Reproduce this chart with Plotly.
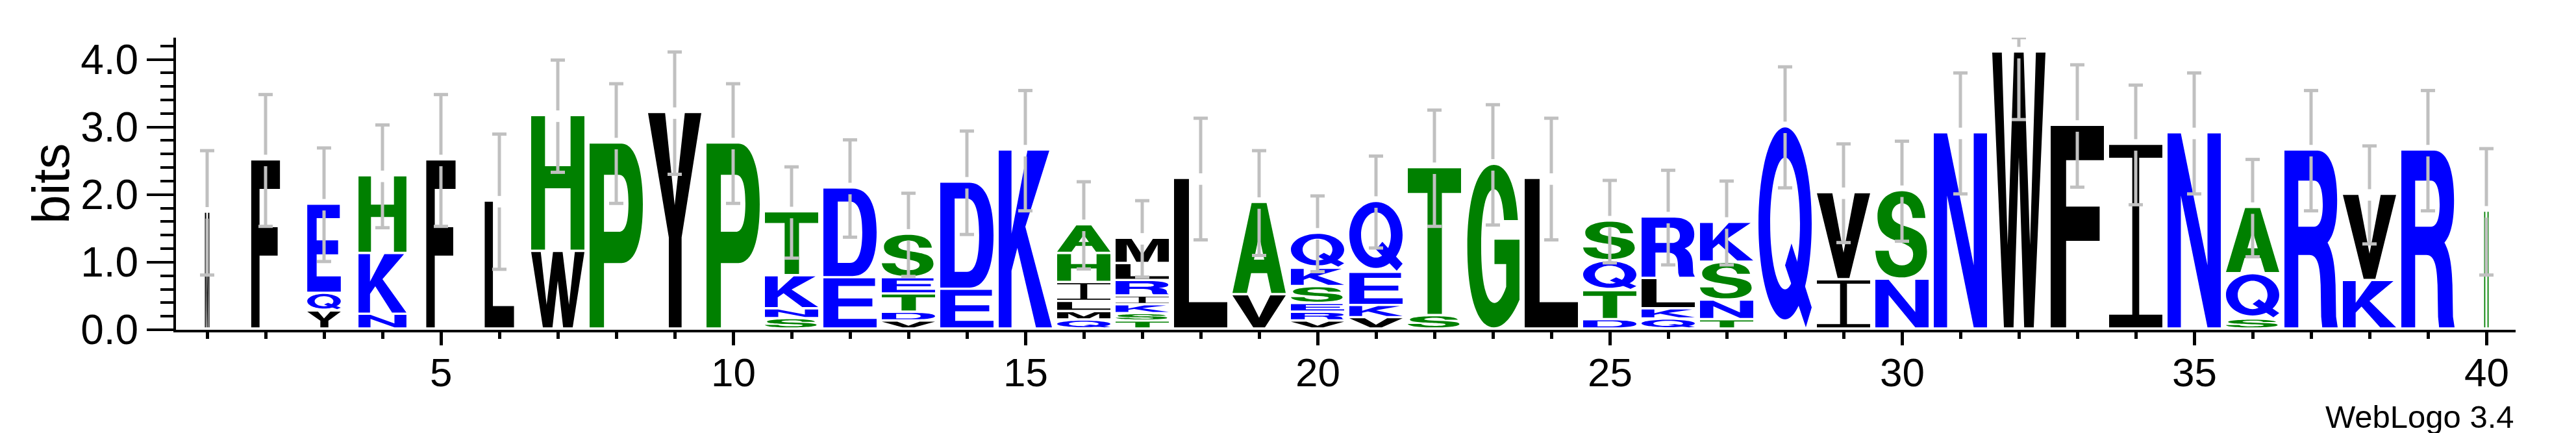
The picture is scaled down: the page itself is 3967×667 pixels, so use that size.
import re
import plotly.graph_objects as go

# ---------------- data ----------------
positions = list(range(1, 41))
stack_letters = ["M", "F", "YQE", "NKH", "F", "L", "WH", "P", "Y", "P",
                 "SNKT", "ED", "VDTES", "ED", "K", "QMLIHA", "TSKIRLM", "L", "VA", "VRESKQ",
                 "VKEQ", "ST", "G", "L", "DTQS", "QKLR", "TNSK", "Q", "IV", "NS",
                 "N", "W", "F", "I", "N", "SQA", "R", "KV", "R", "H"]
stack_heights = [
    [1.73], [2.505], [0.27, 0.26, 1.32], [0.22, 0.90, 1.15], [2.505], [1.895], [1.15, 2.01], [2.755], [3.205], [2.755],
    [0.155, 0.145, 0.49, 0.945], [0.76, 1.33], [0.12, 0.13, 0.27, 0.24, 0.645], [0.59, 1.585], [2.65],
    [0.135, 0.125, 0.15, 0.28, 0.43, 0.425], [0.12, 0.11, 0.13, 0.13, 0.23, 0.25, 0.375], [2.23], [0.51, 1.365],
    [0.12, 0.13, 0.13, 0.25, 0.27, 0.52], [0.17, 0.18, 0.49, 1.05], [0.2, 2.19], [2.44], [2.23],
    [0.14, 0.43, 0.44, 0.59], [0.15, 0.15, 0.45, 0.91], [0.14, 0.29, 0.56, 0.59], [2.995], [0.73, 1.29], [0.74, 1.31],
    [2.905], [4.10], [3.015], [2.735], [2.905], [0.15, 0.67, 0.98], [2.65], [0.72, 1.275], [2.65], [1.745]]
stack_width = [0.085, 0.54, 0.63, 0.90, 0.55, 0.55, 1, 1, 1, 1,
               1, 1, 1, 1, 1, 1, 1, 1, 1, 1,
               1, 1, 1, 1, 1, 1, 1, 1, 1, 1,
               1, 1, 1, 1, 1, 1, 1, 1, 1, 0.085]
error_half = [0.92, 0.975, 0.84, 0.76, 0.975, 1.0, 0.83, 0.885, 0.905, 0.885,
              0.675, 0.72, 0.615, 0.765, 0.89, 0.645, 0.565, 0.9, 0.775, 0.56,
              0.68, 0.86, 0.89, 0.9, 0.61, 0.70, 0.62, 0.895, 0.73, 0.74,
              0.895, 0.99, 0.905, 0.885, 0.895, 0.72, 0.89, 0.725, 0.89, 0.935]
y_max = 4.3219
x_ticks_major = [5, 10, 15, 20, 25, 30, 35, 40]
x_tick_labels = ["5", "10", "15", "20", "25", "30", "35", "40"]

# ---------------- style ----------------
FONT = "Liberation Sans, Arial, Helvetica, sans-serif"
BLUE, GREEN, BLACK = "#0000ff", "#008000", "#000000"
COLORS = {}
for ch in "KRDENQ":
    COLORS[ch] = BLUE
for ch in "AGSTPH":
    COLORS[ch] = GREEN
for ch in "FWYLIMV":
    COLORS[ch] = BLACK
FULL_W = 0.911      # glyph width of a full stack, in position units
BOTTOM_INSET = 0.035
ERR_COLOR = "#c0c0c0"
ERR_GAP = 0.085
CAP_HALF = 0.122


def ellipse(cx, cy, rx, ry):
    k = 0.5523
    return (f"M{cx+rx},{cy} C{cx+rx},{cy+k*ry} {cx+k*rx},{cy+ry} {cx},{cy+ry} "
            f"C{cx-k*rx},{cy+ry} {cx-rx},{cy+k*ry} {cx-rx},{cy} "
            f"C{cx-rx},{cy-k*ry} {cx-k*rx},{cy-ry} {cx},{cy-ry} "
            f"C{cx+k*rx},{cy-ry} {cx+rx},{cy-k*ry} {cx+rx},{cy} Z")


# glyph outlines in a unit box (u: 0..1 across, v: 0..1 up)
GLYPHS = {
    "A": ["M0,0 L0.36,1 L0.64,1 L1,0 L0.73,0 L0.65,0.22 L0.35,0.22 L0.27,0 Z "
          "M0.403,0.37 L0.597,0.37 L0.5,0.64 Z"],
    "D": ["M0,0 L0,1 L0.55,1 C0.86,1 1,0.8 1,0.5 C1,0.2 0.86,0 0.55,0 Z "
          "M0.27,0.15 L0.5,0.15 C0.66,0.15 0.73,0.28 0.73,0.5 C0.73,0.72 0.66,0.85 0.5,0.85 L0.27,0.85 Z"],
    "E": ["M0,0 L0,1 L0.97,1 L0.97,0.845 L0.28,0.845 L0.28,0.59 L0.92,0.59 L0.92,0.43 "
          "L0.28,0.43 L0.28,0.175 L1,0.175 L1,0 Z"],
    "F": ["M0,0 L0,1 L1,1 L1,0.83 L0.29,0.83 L0.29,0.6 L0.92,0.6 L0.92,0.43 L0.29,0.43 L0.29,0 Z"],
    "G": ["M0.97,0.66 C0.93,0.88 0.76,1 0.52,1 C0.21,1 0.02,0.79 0.02,0.5 C0.02,0.19 0.21,0 0.52,0 "
          "C0.71,0 0.87,0.07 1,0.17 L1,0.54 L0.53,0.54 L0.53,0.39 L0.75,0.39 L0.75,0.25 "
          "C0.69,0.19 0.61,0.15 0.53,0.15 C0.37,0.15 0.28,0.28 0.28,0.5 C0.28,0.72 0.37,0.85 0.52,0.85 "
          "C0.62,0.85 0.69,0.78 0.71,0.66 Z"],
    "H": ["M0,0 L0,1 L0.26,1 L0.26,0.625 L0.74,0.625 L0.74,1 L1,1 L1,0 L0.74,0 L0.74,0.46 L0.26,0.46 L0.26,0 Z"],
    "I": ["M0,0 L1,0 L1,0.07 L0.565,0.07 L0.565,0.93 L1,0.93 L1,1 L0,1 L0,0.93 L0.435,0.93 L0.435,0.07 L0,0.07 Z"],
    "K": ["M0,0 L0,1 L0.24,1 L0.24,0.53 L0.54,1 L0.95,1 L0.5,0.57 L1,0 L0.7,0 L0.35,0.45 L0.24,0.32 L0.24,0 Z"],
    "L": ["M0,0 L0,1 L0.28,1 L0.28,0.17 L1,0.17 L1,0 Z"],
    "M": ["M0,0 L0,1 L0.3,1 L0.5,0.3 L0.7,1 L1,1 L1,0 L0.79,0 L0.79,0.76 L0.61,0 L0.39,0 L0.21,0.76 L0.21,0 Z"],
    "N": ["M0,0 L0,1 L0.25,1 L0.75,0.32 L0.75,1 L1,1 L1,0 L0.75,0 L0.25,0.68 L0.25,0 Z"],
    "P": ["M0,0 L0,1 L0.6,1 C0.88,1 1,0.84 1,0.67 C1,0.48 0.87,0.35 0.6,0.35 L0.27,0.35 L0.27,0 Z "
          "M0.27,0.52 L0.55,0.52 C0.68,0.52 0.73,0.58 0.73,0.675 C0.73,0.77 0.68,0.83 0.55,0.83 L0.27,0.83 Z"],
    "Q": [ellipse(0.5, 0.52, 0.5, 0.48) + " " + ellipse(0.5, 0.52, 0.28, 0.33),
          "M0.5,0.31 L0.62,0.42 L1,0.1 L0.89,0 Z"],
    "R": ["M0,0 L0,1 L0.62,1 C0.87,1 0.99,0.88 0.99,0.72 C0.99,0.6 0.93,0.52 0.81,0.48 "
          "C0.9,0.43 0.95,0.36 0.96,0.24 L0.97,0.06 L1,0 L0.71,0 L0.69,0.06 L0.68,0.24 "
          "C0.67,0.35 0.62,0.41 0.47,0.41 L0.26,0.41 L0.26,0 Z "
          "M0.26,0.57 L0.56,0.57 C0.67,0.57 0.72,0.62 0.72,0.695 C0.72,0.77 0.67,0.83 0.56,0.83 L0.26,0.83 Z"],
    "S": ["M0.94,0.69 C0.92,0.9 0.76,1 0.5,1 C0.22,1 0.04,0.88 0.04,0.71 C0.04,0.54 0.16,0.47 0.42,0.42 "
          "C0.64,0.37 0.71,0.34 0.71,0.27 C0.71,0.19 0.63,0.14 0.5,0.14 C0.36,0.14 0.27,0.2 0.25,0.31 "
          "L0,0.31 C0.02,0.1 0.2,0 0.5,0 C0.8,0 0.97,0.13 0.97,0.3 C0.97,0.48 0.84,0.54 0.58,0.59 "
          "C0.38,0.63 0.31,0.66 0.31,0.73 C0.31,0.8 0.39,0.86 0.5,0.86 C0.62,0.86 0.68,0.8 0.7,0.69 Z"],
    "T": ["M0,1 L1,1 L1,0.83 L0.64,0.83 L0.64,0 L0.37,0 L0.37,0.83 L0,0.83 Z"],
    "V": ["M0,1 L0.29,1 L0.5,0.3 L0.71,1 L1,1 L0.61,0 L0.39,0 Z"],
    "W": ["M0,1 L0.18,1 L0.29,0.3 L0.41,1 L0.59,1 L0.71,0.3 L0.82,1 L1,1 L0.78,0 L0.6,0 "
          "L0.5,0.62 L0.4,0 L0.22,0 Z"],
    "Y": ["M0,1 L0.32,1 L0.5,0.57 L0.69,1 L1,1 L0.63,0.42 L0.63,0 L0.39,0 L0.39,0.42 Z"],
}

TOK = re.compile(r"[MLCZ]|-?\d*\.?\d+")


def place(path, x0, w, y0, h):
    toks = TOK.findall(path)
    out, i = [], 0
    while i < len(toks):
        t = toks[i]
        if t in ("M", "L", "C", "Z"):
            out.append(t)
            i += 1
        else:
            u, v = float(toks[i]), float(toks[i + 1])
            out.append(f"{x0 + u * w:.5f},{y0 + v * h:.5f}")
            i += 2
    return " ".join(out)


shapes = []
totals = []
for pos, letters, heights, wfrac in zip(positions, stack_letters, stack_heights, stack_width):
    w = FULL_W * wfrac
    x0 = pos - w / 2
    base = 0.0
    for ch, h in zip(letters, heights):
        inset = min(BOTTOM_INSET, 0.3 * h)
        gy0, gh = base + inset, h - inset
        for p in GLYPHS[ch]:
            shapes.append(dict(type="path", path=place(p, x0, w, gy0, gh), xref="x", yref="y",
                               fillcolor=COLORS[ch], line=dict(width=0), layer="below",
                               fillrule="evenodd"))
        base += h
    totals.append(base)

# error bars
ex, ey = [], []
for pos, c, e in zip(positions, totals, error_half):
    top = min(c + e, y_max)
    bot = c - e
    ex += [pos, pos, None, pos, pos, None,
           pos - CAP_HALF, pos + CAP_HALF, None, pos - CAP_HALF, pos + CAP_HALF, None]
    ey += [c + ERR_GAP, top, None, bot, c - ERR_GAP, None,
           top, top, None, bot, bot, None]

fig = go.Figure()
fig.add_trace(go.Scatter(x=ex, y=ey, mode="lines", line=dict(color=ERR_COLOR, width=5),
                         hoverinfo="skip", showlegend=False))

fig.update_layout(
    width=3967, height=667,
    margin=dict(l=263, r=101, t=50, b=167),
    paper_bgcolor="white", plot_bgcolor="white",
    showlegend=False, shapes=shapes,
    font=dict(family=FONT, color="black"),
)
fig.update_xaxes(
    range=[0.4667, 40.5], showline=True, linecolor="black", linewidth=4,
    ticks="outside", tickmode="array", tickvals=x_ticks_major, showticklabels=False,
    ticklen=20, tickwidth=5, tickcolor="black",
    showgrid=False, zeroline=False,
    minor=dict(dtick=1, tick0=0, ticks="outside", ticklen=10, tickwidth=5, tickcolor="black", showgrid=False),
)
fig.update_yaxes(
    range=[0, y_max], showline=True, linecolor="black", linewidth=4,
    ticks="outside", dtick=1, tick0=0, tickformat=".1f",
    ticklen=41, tickwidth=4, tickcolor="black",
    tickfont=dict(size=64, family=FONT, color="black"),
    showgrid=False, zeroline=False,
    minor=dict(dtick=0.2, tick0=0, ticks="outside", ticklen=20, tickwidth=4, tickcolor="black", showgrid=False),
)
# x tick labels (placed just below the long ticks)
for xv, lab in zip(x_ticks_major, x_tick_labels):
    fig.add_annotation(text=lab, x=xv, xref="x", y=0, yref="paper", yshift=-29,
                       showarrow=False, xanchor="center", yanchor="top",
                       font=dict(size=62, family=FONT, color="black"))
fig.add_annotation(text="bits", xref="paper", yref="paper", x=0, y=0.5, xshift=-193,
                   textangle=-90, showarrow=False, xanchor="center", yanchor="middle",
                   font=dict(size=80, family=FONT, color="black"))
fig.add_annotation(text="WebLogo 3.4", xref="paper", yref="paper", x=1, y=0, yshift=-134,
                   showarrow=False, xanchor="right", yanchor="middle",
                   font=dict(size=49, family=FONT, color="black"))

fig.write_html("out.html")
